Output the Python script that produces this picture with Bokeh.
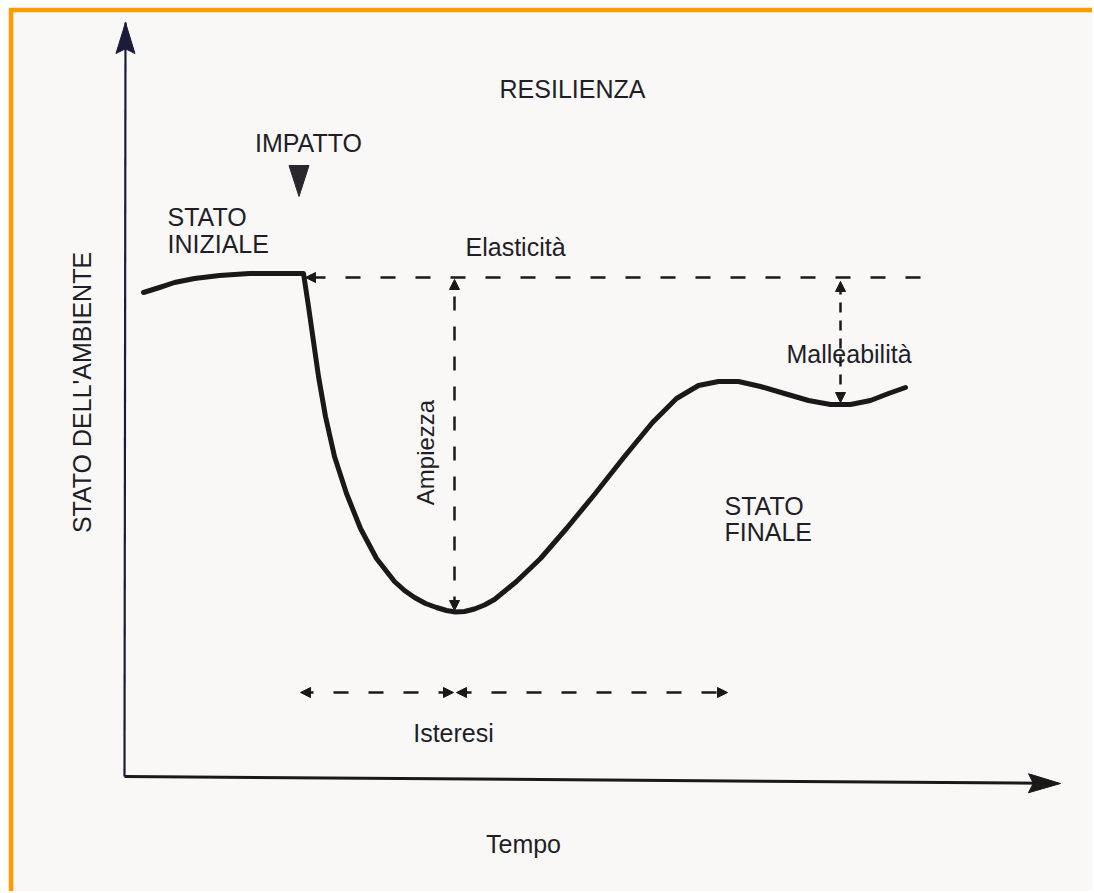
import math
from bokeh.plotting import figure
from bokeh.models import Range1d, Arrow, NormalHead
from bokeh.core.properties import value
from bokeh.embed import file_html
from bokeh.resources import INLINE

# ---- data (time units, state units) ----
curve_t = [1.9, 3.5, 5.0, 7.0, 9.5, 12.5, 15.5, 17.9, 18.4, 18.9, 19.4, 20.1, 21.0, 22.2, 23.6,
           25.2, 27.0, 28.0, 29.0, 30.1, 31.2, 32.2, 33.1, 34.0, 35.0, 36.0, 37.0, 39.2, 41.6, 44.2,
           47.0, 50.0, 52.8, 55.2, 57.4, 59.4, 61.4, 63.6, 66.0, 68.4, 70.6, 72.6, 74.6, 76.4, 78.1]
curve_s = [48.4, 48.9, 49.4, 49.8, 50.1, 50.3, 50.3, 50.3, 47.0, 43.5, 40.0, 36.0, 32.0, 28.3, 24.8,
           21.8, 19.5, 18.6, 17.9, 17.3, 16.9, 16.6, 16.45, 16.5, 16.75, 17.15, 17.7, 19.5, 21.8, 24.8,
           28.2, 32.0, 35.4, 37.8, 39.1, 39.5, 39.5, 39.0, 38.3, 37.6, 37.2, 37.2, 37.6, 38.3, 38.9]

y_axis = dict(x0=0.0, y0=0.0, x1=0.1, y1=75.4)
x_axis = dict(x0=0.0, y0=0.0, x1=93.6, y1=-0.7)

ref_level = 49.9           # initial state level (Elasticità reference)
ref_t = (79.6, 18.1)
ampiezza = dict(t=33.0, s0=49.7, s1=16.6)
malleab = dict(t=71.6, s0=49.5, s1=37.4)
isteresi = dict(s=8.4, left=(32.9, 17.6), right=(33.2, 60.3))
impatto_t, impatto_top, impatto_tip = 17.45, 61.1, 58.0

labels = ["RESILIENZA", "IMPATTO", "STATO", "INIZIALE", "Elasticità", "Malleabilità",
          "STATO", "FINALE", "Isteresi", "Tempo"]
label_t = [44.8, 18.4, 4.3, 4.3, 34.1, 66.2, 60.0, 60.0, 32.9, 39.9]
label_s = [68.8, 63.4, 56.0, 53.3, 53.0, 42.3, 27.1, 24.5, 4.4, -6.7]
label_align = ["center", "center", "left", "left", "left", "left", "left", "left", "center", "center"]
label_size = ["25px", "25px", "25px", "25px", "25px", "25px", "25px", "25px", "25px", "25px"]

rot_labels = ["STATO DELL'AMBIENTE", "Ampiezza"]
rot_t = [-4.3, 30.1]
rot_s = [38.4, 32.4]
rot_size = ["25px", "24px"]

INK = "#1c1719"
TXT = "#221e28"
FONT = value("Liberation Sans")

p = figure(width=1084, height=884, output_backend="svg", toolbar_location=None,
           x_range=Range1d(-11.1, 96.8), y_range=Range1d(-11.5, 76.4),
           x_axis_location=None, y_axis_location=None,
           min_border_left=5, min_border_top=5, min_border_right=0, min_border_bottom=0,
           border_fill_color="#ff9a00", background_fill_color="#f9f8f6",
           outline_line_color=None)
p.margin = (7, 0, 0, 8)
p.grid.visible = False

# axes lines
p.line([y_axis["x0"], y_axis["x1"]], [y_axis["y0"], y_axis["y1"]], line_color="#1d1c38", line_width=2.2)
p.line([x_axis["x0"], x_axis["x1"] - 2.0], [x_axis["y0"], x_axis["y1"] + 0.015 * 2], line_color=INK, line_width=3)

def head(x0, y0, x1, y1, length, half):
    dx, dy = x1 - x0, y1 - y0
    n = math.hypot(dx, dy)
    ux, uy = dx / n, dy / n
    bx, by = x1 - ux * length, y1 - uy * length
    nx, ny = -uy, ux
    return ([x1, bx + nx * half, bx + ux * length * 0.15, bx - nx * half],
            [y1, by + ny * half, by + uy * length * 0.15, by - ny * half])

hx, hy = head(**y_axis, length=3.1, half=0.95)
p.patch(hx, hy, fill_color="#1d1c38", line_color="#1d1c38", line_width=1)
hx, hy = head(**x_axis, length=3.2, half=0.95)
p.patch(hx, hy, fill_color=INK, line_color=INK, line_width=1)

# dashed arrows
def arrow(x0, y0, x1, y1, both=False, dash="15 20"):
    kw = dict(line_color=INK, fill_color=INK, line_width=1)
    p.add_layout(Arrow(x_start=x0, y_start=y0, x_end=x1, y_end=y1,
                       start=NormalHead(size=10, **kw) if both else None,
                       end=NormalHead(size=10, **kw),
                       line_color=INK, line_width=2.5, line_dash=dash))

arrow(ref_t[0], ref_level, ref_t[1], ref_level, dash="15 20")
arrow(ampiezza["t"], ampiezza["s1"], ampiezza["t"], ampiezza["s0"], both=True, dash="14 16")
arrow(malleab["t"], malleab["s1"], malleab["t"], malleab["s0"], both=True, dash="10 8")
arrow(isteresi["left"][0], isteresi["s"], isteresi["left"][1], isteresi["s"], both=True, dash="15 20")
arrow(isteresi["right"][0], isteresi["s"], isteresi["right"][1], isteresi["s"], both=True, dash="15 20")

# curve
p.line(curve_t, curve_s, line_color=INK, line_width=5, line_join="round", line_cap="round")

# impact marker
p.patch([impatto_t - 1.0, impatto_t + 1.0, impatto_t],
        [impatto_top, impatto_top, impatto_tip], fill_color="#2a2630", line_color="#2a2630")

# labels
for txt, t, s, al, sz in zip(labels, label_t, label_s, label_align, label_size):
    p.text([t], [s], text=[txt], text_align=al, text_baseline="middle",
           text_font=FONT, text_font_size=sz, text_color=TXT)
for txt, t, s, sz in zip(rot_labels, rot_t, rot_s, rot_size):
    p.text([t], [s], text=[txt], angle=math.pi / 2, text_align="center", text_baseline="middle",
           text_font=FONT, text_font_size=sz, text_color=TXT)

open("out.html", "w").write(file_html(p, INLINE))
